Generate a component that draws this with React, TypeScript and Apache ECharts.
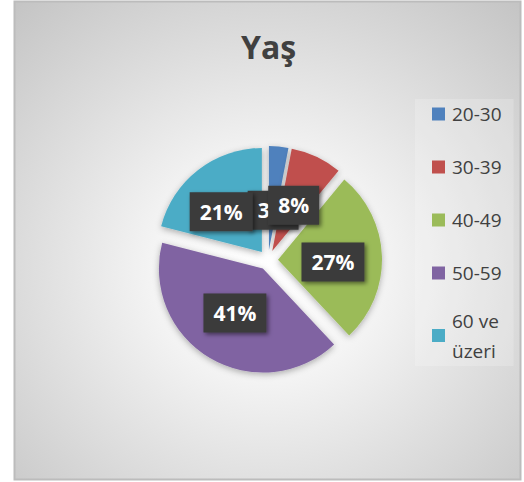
import React, { useEffect, useRef } from "react";
import * as echarts from "echarts";

const titleText = "Yaş";
const categories = ["20-30", "30-39", "40-49", "50-59", "60 ve üzeri"];
const values = [3, 8, 27, 41, 21];
const colors = ["#4f81bd", "#c0504d", "#9bbb59", "#8064a2", "#4bacc6"];
// small label nudges (style only), in pixels [dx, dy]
const labelNudges: Array<[number, number]> = [[-1, 15], [-2, 4], [0, 4], [0, -3], [-7, 3]];

const FONT = "'Open Sans', 'Noto Sans', sans-serif";

export default function App() {
  const ref = useRef<HTMLDivElement>(null);
  useEffect(() => {
    if (!ref.current) return;
    const chart = echarts.init(ref.current, undefined, { renderer: "svg" });
    const data = categories.map((name, i) => ({
      name,
      value: values[i],
      selected: true,
      itemStyle: { color: colors[i] },
    }));
    chart.setOption({
      animation: false,
      graphic: [
        {
          type: "rect",
          z: -10,
          silent: true,
          shape: { x: 14.5, y: 1.5, width: 506, height: 478 },
          style: {
            fill: new echarts.graphic.RadialGradient(0.5, 0.56, 0.75, [
              { offset: 0, color: "#ffffff" },
              { offset: 0.3, color: "#f4f4f4" },
              { offset: 1, color: "#c4c4c4" },
            ]),
            stroke: "#bcbcbc",
            lineWidth: 2,
          },
        },
      ],
      title: {
        text: titleText,
        left: 241,
        top: 30,
        padding: 0,
        textStyle: {
          fontFamily: FONT,
          fontSize: 32,
          fontWeight: "bold",
          color: "#404040",
        },
      },
      legend: {
        orient: "vertical",
        left: 415,
        top: 99,
        padding: [0, 12, 6, 17],
        backgroundColor: "rgba(255,255,255,0.2)",
        icon: "rect",
        itemWidth: 13,
        itemHeight: 13,
        itemGap: 23,
        selectedMode: false,
        formatter: (name: string) => (name === "60 ve üzeri" ? "60 ve\nüzeri" : name),
        textStyle: {
          fontFamily: FONT,
          fontSize: 19,
          color: "#404040",
          lineHeight: 30,
          height: 30,
          padding: [0, 0, 0, 2],
        },
        data: categories,
      },
      series: [
        {
          type: "pie",
          center: [268, 260],
          radius: 104,
          startAngle: 90,
          clockwise: true,
          selectedMode: "multiple",
          selectedOffset: 10,
          avoidLabelOverlap: false,
          minShowLabelAngle: 0,
          labelLayout: (p: any) => ({
            hideOverlap: false,
            dx: labelNudges[p.dataIndex][0],
            dy: labelNudges[p.dataIndex][1],
          }),
          silent: true,
          itemStyle: {
            shadowBlur: 6,
            shadowColor: "rgba(0,0,0,0.3)",
            shadowOffsetY: 2,
          },
          label: {
            show: true,
            position: "inside",
            overflow: "none",
            formatter: (p: any) => p.value + "%",
            fontFamily: FONT,
            fontSize: 21,
            fontWeight: "bold",
            color: "#ffffff",
            backgroundColor: "#3b3b3b",
            padding: [9, 10],
            shadowBlur: 4,
            shadowColor: "rgba(0,0,0,0.5)",
            shadowOffsetX: 2,
            shadowOffsetY: 2,
          },
          labelLine: { show: false },
          emphasis: { disabled: true },
          data,
        },
      ],
    });
    return () => chart.dispose();
  }, []);
  return (
    <div style={{ position: "absolute", left: 0, top: 0, width: 524, height: 482, background: "#ffffff" }}>
      <div ref={ref} style={{ width: 524, height: 482 }} />
    </div>
  );
}
